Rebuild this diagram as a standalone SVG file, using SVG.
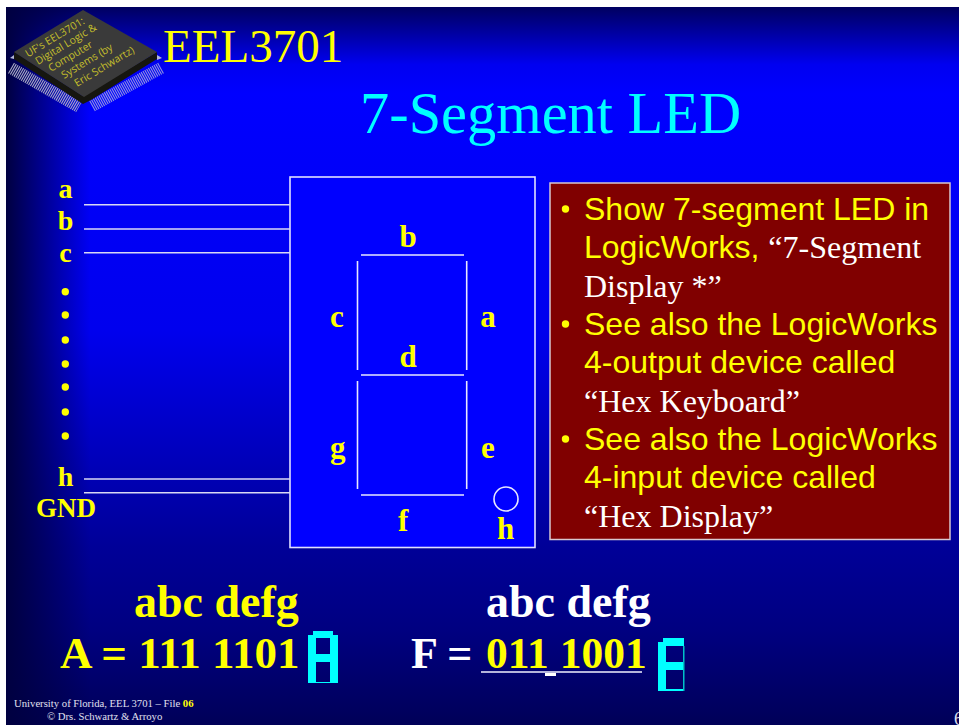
<svg xmlns="http://www.w3.org/2000/svg" width="959" height="725" viewBox="0 0 959 725">
<style>
.s{font-family:"Liberation Serif","Times New Roman",serif}
.l{font-family:"Liberation Serif",serif;font-weight:bold;fill:#ffff00;font-size:31px}
.p{font-size:28px}
.c{text-anchor:middle}
.w{stroke:#d8d8f4;stroke-width:1.6;fill:none}
.seg{stroke:#e8e8ff;stroke-width:1.6;fill:none}
.b{font-family:"Liberation Sans",Arial,sans-serif;font-size:32px;fill:#ffff00}
.t{font-family:"Liberation Serif",serif;font-size:32px;fill:#ffffff}
.big{font-family:"Liberation Serif",serif;font-weight:bold;font-size:45px}
.chip{font-family:"Open Sans","Liberation Sans",sans-serif;font-size:10.500px;fill:#c4bf2c}
.cy{fill:#00ffff}
</style>
<defs>
<linearGradient id="v" x1="0" y1="0" x2="0" y2="1">
<stop offset="0" stop-color="#000060"/><stop offset="0.08" stop-color="#0000f0"/><stop offset="0.12" stop-color="#0000ff"/><stop offset="0.45" stop-color="#0000ee"/><stop offset="0.75" stop-color="#000098"/><stop offset="0.87" stop-color="#000080"/><stop offset="1" stop-color="#000058"/>
</linearGradient>
<linearGradient id="h" x1="0" y1="0" x2="1" y2="0">
<stop offset="0" stop-color="#000040" stop-opacity="1"/><stop offset="1" stop-color="#000040" stop-opacity="0"/>
</linearGradient>
</defs>
<rect width="959" height="725" fill="#ffffff"/>
<rect x="6" y="7" width="953" height="718" fill="url(#v)"/>
<rect x="6" y="7" width="84" height="718" fill="url(#h)"/>

<g id="chip">
<line x1="11" y1="68" x2="79" y2="107" stroke="#a8aac4" stroke-width="12" stroke-dasharray="1.1 1"/>
<line x1="92" y1="106" x2="161" y2="68" stroke="#8f92e0" stroke-width="12" stroke-dasharray="1.1 1"/>
<polygon points="10,58 14,55 14,59" fill="#b4b8d8"/>
<polygon points="162,58 157,55 157,60" fill="#b4b8d8"/>
<polygon points="14,52 14,59 83,104 91,100 157,59 157,52 83,96" fill="#161610"/>
<polygon points="83,10 157,52 84,97 14,52" fill="#3a3a3a"/>
<g class="chip">
<text transform="translate(28,57.500) rotate(-31)">UF's EEL3701:</text>
<text transform="translate(38,65) rotate(-31)">Digital Logic &amp;</text>
<text transform="translate(51,72) rotate(-31)">Computer</text>
<text transform="translate(64,79) rotate(-31)">Systems (by</text>
<text transform="translate(77,87) rotate(-31)">Eric Schwartz)</text>
</g>
</g>

<g id="titles">
<text class="s" x="163" y="62" font-size="47" fill="#ffff00">EEL3701</text>
<text class="s" x="360" y="133" font-size="58.400" fill="#00ffff">7-Segment LED</text>
</g>

<g id="display">
<rect x="290" y="177" width="245" height="370.500" fill="#0000ff" stroke="#e0e0ff" stroke-width="1.600"/>
<g id="segments">
<line class="seg" x1="361" y1="255" x2="464" y2="255"/>
<line class="seg" x1="357.500" y1="261" x2="357.500" y2="370"/>
<line class="seg" x1="466.700" y1="261" x2="466.700" y2="370"/>
<line class="seg" x1="361" y1="375" x2="464" y2="375"/>
<line class="seg" x1="357.500" y1="381" x2="357.500" y2="489"/>
<line class="seg" x1="466.700" y1="381" x2="466.700" y2="489"/>
<line class="seg" x1="361" y1="495" x2="464" y2="495"/>
<circle class="seg" cx="506" cy="499" r="12"/>
</g>
<text class="l c" x="408" y="247">b</text>
<text class="l" x="330" y="327">c</text>
<text class="l c" x="488" y="327">a</text>
<text class="l c" x="408" y="367">d</text>
<text class="l" x="330" y="458">g</text>
<text class="l" x="481" y="458">e</text>
<text class="l" x="398" y="531">f</text>
<text class="l" x="497" y="539">h</text>
</g>

<g id="connectors">
<line class="w" x1="84" y1="204.700" x2="290" y2="204.700"/>
<line class="w" x1="84" y1="229" x2="290" y2="229"/>
<line class="w" x1="84" y1="252.700" x2="290" y2="252.700"/>
<line class="w" x1="84" y1="479" x2="290" y2="479"/>
<line class="w" x1="84" y1="492.700" x2="290" y2="492.700"/>
</g>

<g id="pins">
<text class="l c p" x="65.500" y="198">a</text>
<text class="l c p" x="65.500" y="230">b</text>
<text class="l c p" x="65.500" y="262">c</text>
<g fill="#ffff00">
<circle cx="65.300" cy="291.700" r="3.700"/><circle cx="65.300" cy="315" r="3.700"/><circle cx="65.300" cy="340" r="3.700"/><circle cx="65.300" cy="364" r="3.700"/><circle cx="65.300" cy="387" r="3.700"/><circle cx="65.300" cy="412" r="3.700"/><circle cx="65.300" cy="436" r="3.700"/>
</g>
<text class="l c p" x="65.500" y="486">h</text>
<text class="l c" x="66" y="517" style="font-size:27px">GND</text>
</g>

<g id="notes">
<rect x="550" y="183" width="400" height="356.500" fill="#800000" stroke="#d8c8d0" stroke-width="1.500"/>
<g fill="#ffff00"><circle cx="565.500" cy="209" r="3.700"/><circle cx="565.500" cy="324" r="3.700"/><circle cx="565.500" cy="439" r="3.700"/></g>
<text class="b" x="584" y="220">Show 7-segment LED in</text>
<text class="b" x="584" y="258">LogicWorks, <tspan class="t">“7-Segment</tspan></text>
<text class="t" x="584" y="297">Display *”</text>
<text class="b" x="584" y="335">See also the LogicWorks</text>
<text class="b" x="584" y="373">4-output device called</text>
<text class="t" x="584" y="412">“Hex Keyboard”</text>
<text class="b" x="584" y="450">See also the LogicWorks</text>
<text class="b" x="584" y="488">4-input device called</text>
<text class="t" x="584" y="527">“Hex Display”</text>
</g>

<g id="example-a">
<text class="big" x="134" y="617" fill="#ffff00" style="font-size:46px">abc defg</text>
<text class="big" x="60" y="668" fill="#ffff00">A = 111 1101</text>
<path class="cy" fill-rule="evenodd" d="M313 631H333V635H338V683H308V635H313ZM316 638V654H330V638ZM316 662V682H330V662Z"/>
</g>

<g id="example-f">
<text class="big" x="486" y="617" fill="#ffffff" style="font-size:46px">abc defg</text>
<text class="big" x="411" y="668" fill="#ffffff" style="font-size:44px">F =</text>
<text class="big" x="486" y="668" fill="#ffff00" style="font-size:43.500px">011 1001</text>
<line x1="481" y1="672" x2="642" y2="672" stroke="#f0f0ff" stroke-width="1.500"/>
<rect x="545" y="673" width="11" height="3" fill="#ffffff"/>
<path class="cy" d="M658 642H663V638H684V646H666V662H684V670H666V689H684V691H658Z"/>
<rect x="683" y="646" width="1.500" height="45" fill="#00c0c8"/>
</g>

<g id="footer">
<text class="s" x="14" y="707" font-size="10.700" fill="#e0e0f0">University of Florida, EEL 3701 – File <tspan font-weight="bold" fill="#ffff00">06</tspan></text>
<text class="s" x="47" y="720" font-size="10.700" fill="#e0e0f0">© Drs. Schwartz &amp; Arroyo</text>
<text class="s" x="954" y="725" font-size="18" fill="#e0e0f0">6</text>
</g>
</svg>
